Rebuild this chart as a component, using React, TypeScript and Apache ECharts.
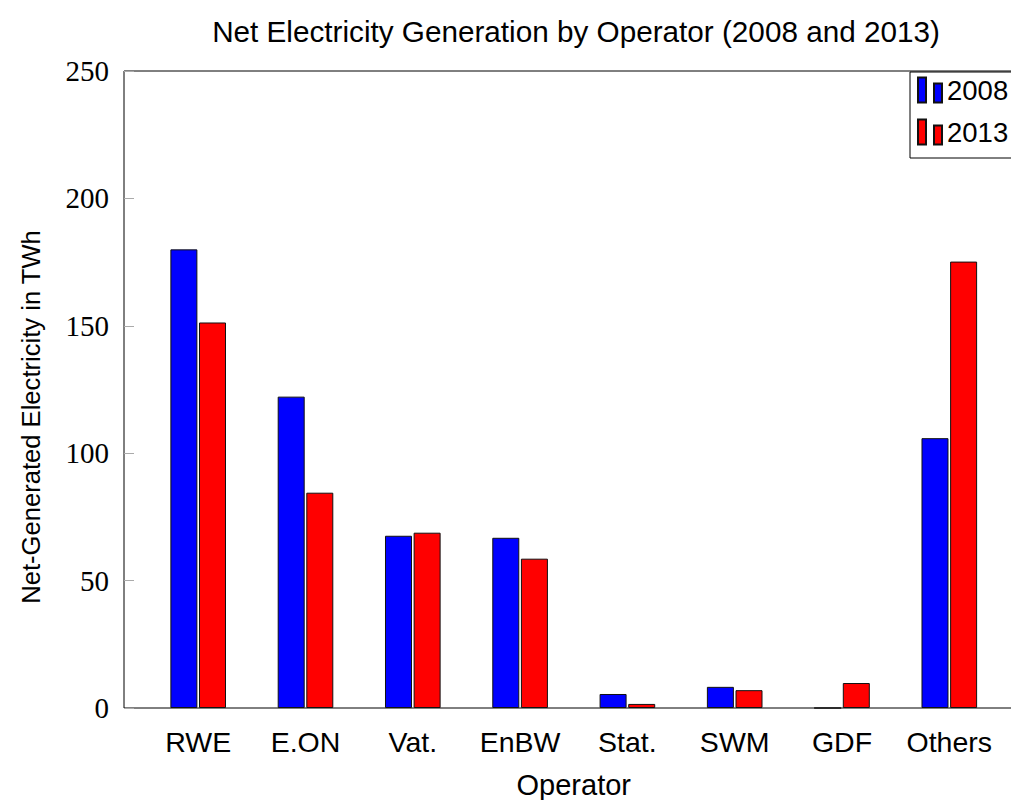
import React, { useEffect, useRef } from "react";
import * as echarts from "echarts";

const categories = ["RWE", "E.ON", "Vat.", "EnBW", "Stat.", "SWM", "GDF", "Others"];
const values2008 = [180.0, 122.2, 67.6, 66.8, 5.5, 8.3, 0, 105.9];
const values2013 = [151.3, 84.5, 68.8, 58.6, 1.6, 7.0, 9.8, 175.2];
const seriesNames = ["2008", "2013"];
const yTicks = { min: 0, max: 250, interval: 50 };
const yAxisTitle = "Net-Generated Electricity in TWh";

const SANS = "Liberation Sans";
const SERIF = "Liberation Serif";
const legendIcon = "path://M0,0h8v25h-8z M16,6h8v19h-8z";

export default function App() {
  const ref = useRef<HTMLDivElement>(null);
  useEffect(() => {
    if (!ref.current) return;
    const chart = echarts.init(ref.current, null, { renderer: "svg" });
    chart.setOption({
      animation: false,
      backgroundColor: "#fff",
      title: {
        text: "Net Electricity Generation by Operator (2008 and 2013)",
        left: 571,
        top: 11,
        textAlign: "center",
        textStyle: { fontFamily: SANS, fontSize: 29.7, fontWeight: "normal", color: "#000" },
      },
      legend: {
        orient: "vertical",
        left: 910,
        top: 72,
        padding: [4, 8, 12, 7],
        itemWidth: 24,
        itemHeight: 25,
        itemGap: 14,
        borderColor: "#000",
        borderWidth: 1,
        backgroundColor: "#fff",
        icon: legendIcon,
        textStyle: { fontFamily: SANS, fontSize: 27.5, color: "#000", padding: [4, 0, 0, 0] },
        data: seriesNames,
      },
      graphic: [
        {
          type: "text",
          x: 31,
          y: 417,
          rotation: Math.PI / 2,
          style: {
            text: yAxisTitle,
            fontFamily: SANS,
            fontSize: 25.6,
            fill: "#000",
            align: "center",
            verticalAlign: "middle",
          },
        },
      ],
      grid: [
        {
          left: 144.55,
          top: 71,
          width: 858.4,
          height: 637,
          containLabel: false,
          outerBoundsMode: "none",
        },
        {
          left: 124,
          top: 71,
          width: 900,
          height: 637,
          show: true,
          borderColor: "#000",
          borderWidth: 1,
          backgroundColor: "transparent",
          outerBoundsMode: "none",
          z: 0,
        },
      ],
      xAxis: [
        {
          type: "category",
          gridIndex: 0,
          data: categories,
          axisLine: { show: false },
          axisTick: { show: false },
          axisLabel: { fontFamily: SANS, fontSize: 28.5, color: "#000", margin: 19, interval: 0 },
          name: "Operator",
          nameLocation: "middle",
          nameGap: 62,
          nameTextStyle: { fontFamily: SANS, fontSize: 29, color: "#000" },
        },
        { type: "value", gridIndex: 1, show: false },
      ],
      yAxis: [
        {
          type: "value",
          gridIndex: 0,
          min: yTicks.min,
          max: yTicks.max,
          interval: yTicks.interval,
          offset: 20.55,
          axisLine: { show: false },
          axisTick: { show: true, inside: true, length: 10, lineStyle: { color: "#aaa" } },
          splitLine: { show: false },
          axisLabel: { fontFamily: SERIF, fontSize: 29, color: "#000", margin: 15 },
        },
        { type: "value", gridIndex: 1, show: false },
      ],
      series: [
        {
          name: seriesNames[0],
          type: "bar",
          xAxisIndex: 0,
          yAxisIndex: 0,
          data: values2008,
          barWidth: 27,
          barGap: "6%",
          itemStyle: { color: "#0000ff", borderColor: "#111", borderWidth: 1 },
        },
        {
          name: seriesNames[1],
          type: "bar",
          xAxisIndex: 0,
          yAxisIndex: 0,
          data: values2013,
          barWidth: 27,
          barGap: "6%",
          itemStyle: { color: "#ff0000", borderColor: "#111", borderWidth: 1 },
        },
      ],
    });
    return () => chart.dispose();
  }, []);
  return (
    <div
      ref={ref}
      style={{ position: "absolute", left: 0, top: 0, width: 1011, height: 800 }}
    />
  );
}
